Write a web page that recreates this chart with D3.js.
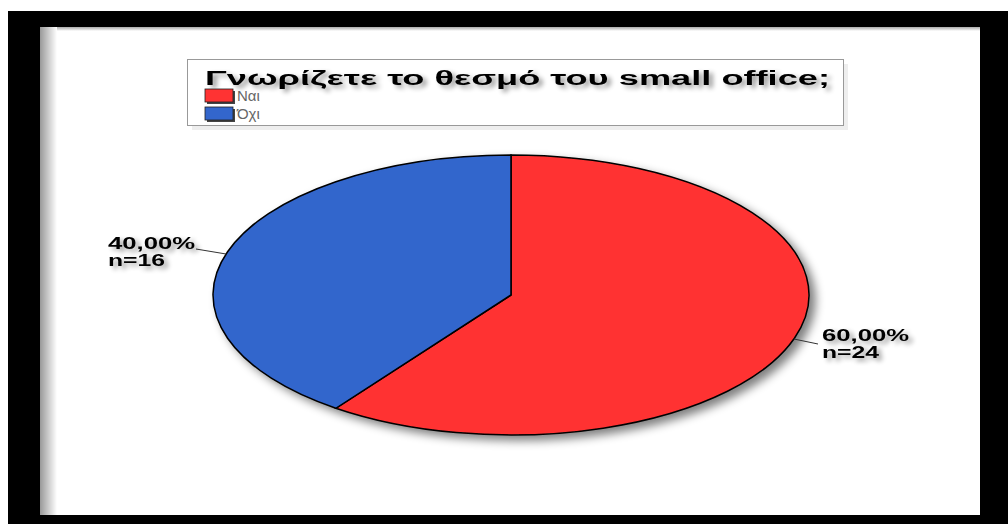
<!DOCTYPE html>
<html>
<head>
<meta charset="utf-8">
<script src="https://cdn.jsdelivr.net/npm/d3@7"></script>
<style>
  html, body { margin: 0; padding: 0; background: #fff; }
  svg { display: block; }
</style>
</head>
<body>
<svg id="chart" width="1008" height="524"></svg>
<script>
// Survey answers
const title = "Γνωρίζετε το θεσμό του small office;";
const categories = ["Ναι", "Όχι"];
const counts = [24, 16];
const percentLabels = ["60,00%", "40,00%"];
const colors = ["#ff3333", "#3366cc"];

const svg = d3.select("#chart");
const defs = svg.append("defs");
const FONT = "Liberation Sans, Arial, sans-serif";

// Soft gray drop shadow used by the pie
const sh = defs.append("filter").attr("id", "shadow")
  .attr("x", "-20%").attr("y", "-20%").attr("width", "140%").attr("height", "140%");
sh.append("feGaussianBlur").attr("in", "SourceAlpha").attr("stdDeviation", 5).attr("result", "b");
sh.append("feOffset").attr("in", "b").attr("dx", 6).attr("dy", 5).attr("result", "o");
sh.append("feComponentTransfer").attr("in", "o").attr("result", "s")
  .append("feFuncA").attr("type", "linear").attr("slope", 0.5);
const m = sh.append("feMerge");
m.append("feMergeNode").attr("in", "s");
m.append("feMergeNode").attr("in", "SourceGraphic");

// Gray halo behind texts
const tsh = defs.append("filter").attr("id", "tshadow")
  .attr("x", "-10%").attr("y", "-40%").attr("width", "120%").attr("height", "180%");
tsh.append("feGaussianBlur").attr("in", "SourceAlpha").attr("stdDeviation", 2.5).attr("result", "b");
tsh.append("feOffset").attr("in", "b").attr("dx", 4).attr("dy", 3).attr("result", "o");
tsh.append("feComponentTransfer").attr("in", "o").attr("result", "s")
  .append("feFuncA").attr("type", "linear").attr("slope", 0.4);
const tm = tsh.append("feMerge");
tm.append("feMergeNode").attr("in", "s");
tm.append("feMergeNode").attr("in", "SourceGraphic");

// Page frame: black border with a gray gradient edge inside
const grad = defs.append("linearGradient").attr("id", "edge").attr("x1", 0).attr("x2", 1);
grad.append("stop").attr("offset", 0).attr("stop-color", "#999");
grad.append("stop").attr("offset", 1).attr("stop-color", "#fff");
svg.append("rect").attr("x", 8).attr("y", 11).attr("width", 1000).attr("height", 513).attr("fill", "#000");
svg.append("rect").attr("x", 40).attr("y", 27).attr("width", 940).attr("height", 488).attr("fill", "#fff");
svg.append("rect").attr("x", 40).attr("y", 27).attr("width", 17).attr("height", 488).attr("fill", "url(#edge)");
const grad2 = defs.append("linearGradient").attr("id", "edgeTop").attr("x1", 0).attr("x2", 0).attr("y1", 0).attr("y2", 1);
grad2.append("stop").attr("offset", 0).attr("stop-color", "#aaa");
grad2.append("stop").attr("offset", 1).attr("stop-color", "#fff");
svg.append("rect").attr("x", 57).attr("y", 27).attr("width", 923).attr("height", 4).attr("fill", "url(#edgeTop)");

// Legend box with the title
const lg = svg.append("g");
lg.append("rect").attr("x", 192).attr("y", 64).attr("width", 656).attr("height", 66)
  .attr("fill", "#ddd").attr("opacity", 0.5);
lg.append("rect").attr("x", 187.5).attr("y", 59.5).attr("width", 656).attr("height", 66)
  .attr("fill", "#fff").attr("stroke", "#999").attr("stroke-width", 1);
lg.append("text").attr("x", 205).attr("y", 85)
  .attr("font-family", FONT).attr("font-weight", "bold")
  .attr("font-size", 20).attr("fill", "#000").attr("filter", "url(#tshadow)")
  .attr("textLength", 625).attr("lengthAdjust", "spacingAndGlyphs")
  .text(title);
categories.forEach((c, i) => {
  const y = 89 + i * 18;
  lg.append("rect").attr("x", 207).attr("y", y + 2).attr("width", 28).attr("height", 13).attr("fill", "#444");
  lg.append("rect").attr("x", 205).attr("y", y).attr("width", 28).attr("height", 13)
    .attr("fill", colors[i]).attr("stroke", "#222").attr("stroke-width", 0.8);
  lg.append("text").attr("x", 237).attr("y", y + 12)
    .attr("font-family", FONT).attr("font-size", 15)
    .attr("fill", "#666").text(c);
});

// Pie, drawn as a circle and squashed vertically into an ellipse
const cx = 511, cy = 295, rx = 298, ry = 140;
const pie = d3.pie().sort(null).value(d => d)(counts);
const arc = d3.arc().innerRadius(0).outerRadius(rx);

const pg = svg.append("g").attr("filter", "url(#shadow)");
const inner = pg.append("g").attr("transform", `translate(${cx},${cy}) scale(1,${ry / rx})`);
inner.selectAll("path").data(pie).join("path")
  .attr("d", arc)
  .attr("fill", (d, i) => colors[i])
  .attr("stroke", "#000").attr("stroke-width", 1.5)
  .attr("vector-effect", "non-scaling-stroke");

// Value labels with leader lines ending on the ellipse edge
const labelPos = [
  { x: 822, y: 341, lx: 818, ly: 344, side: 1, ey: 339 },
  { x: 108, y: 249, lx: 196, ly: 249, side: -1, ey: 254 }
];
pie.forEach((d, i) => {
  const p = labelPos[i];
  const t0 = (p.ey - cy) / ry;
  const ex = cx + p.side * rx * Math.sqrt(1 - t0 * t0);
  svg.append("line").attr("x1", p.lx).attr("y1", p.ly).attr("x2", ex).attr("y2", p.ey)
    .attr("stroke", "#333").attr("stroke-width", 1);
  const t = svg.append("text")
    .attr("font-family", FONT).attr("font-weight", "bold")
    .attr("font-size", 16).attr("fill", "#000").attr("filter", "url(#tshadow)");
  t.append("tspan").attr("x", p.x).attr("y", p.y)
    .attr("textLength", 87).attr("lengthAdjust", "spacingAndGlyphs").text(percentLabels[i]);
  t.append("tspan").attr("x", p.x).attr("y", p.y + 17)
    .attr("textLength", 57).attr("lengthAdjust", "spacingAndGlyphs").text("n=" + d.data);
});
</script>
</body>
</html>
